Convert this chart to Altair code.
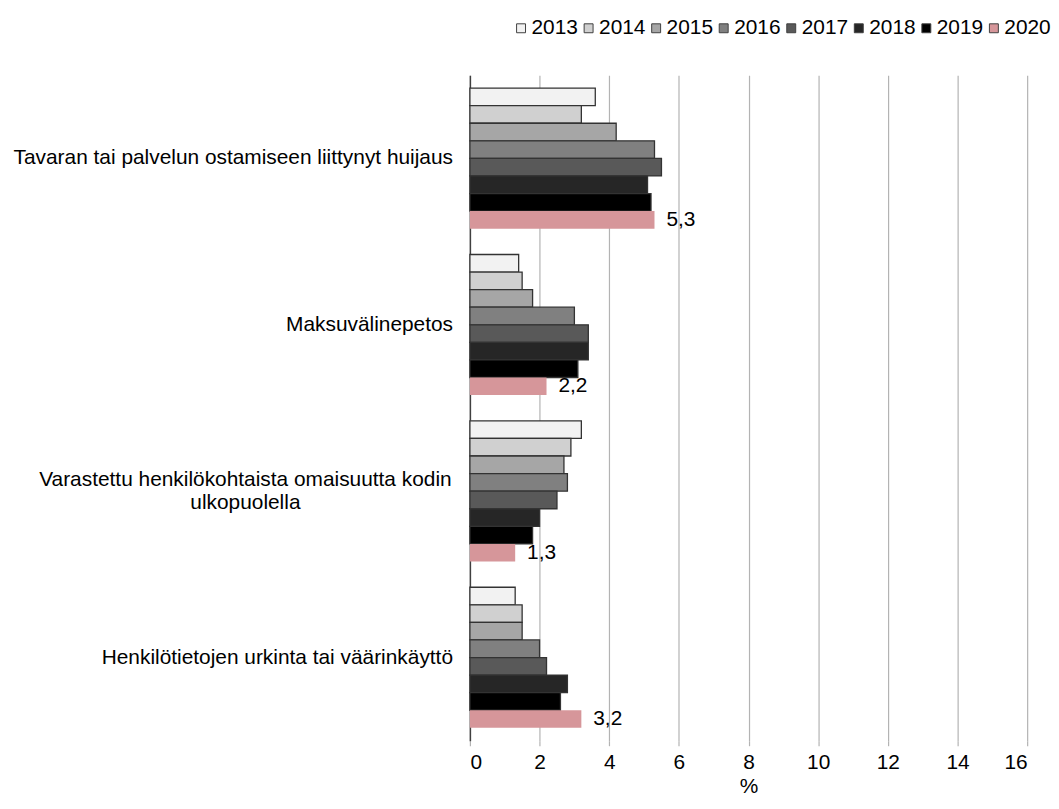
import altair as alt
import pandas as pd

categories = [
    "Tavaran tai palvelun ostamiseen liittynyt huijaus",
    "Maksuvälinepetos",
    "Varastettu henkilökohtaista omaisuutta kodin ulkopuolella",
    "Henkilötietojen urkinta tai väärinkäyttö",
]
years = ["2013", "2014", "2015", "2016", "2017", "2018", "2019", "2020"]
values = {
    "2013": [3.6, 1.4, 3.2, 1.3],
    "2014": [3.2, 1.5, 2.9, 1.5],
    "2015": [4.2, 1.8, 2.7, 1.5],
    "2016": [5.3, 3.0, 2.8, 2.0],
    "2017": [5.5, 3.4, 2.5, 2.2],
    "2018": [5.1, 3.4, 2.0, 2.8],
    "2019": [5.2, 3.1, 1.8, 2.6],
    "2020": [5.3, 2.2, 1.3, 3.2],
}
colors = ["#f2f2f2", "#d0d0d0", "#a6a6a6", "#808080", "#595959", "#262626", "#000000", "#d6969a"]

rows = []
for y in years:
    for c, v in zip(categories, values[y]):
        rows.append({"cat": c, "year": y, "value": v, "label": f"{v:.1f}".replace(".", ",")})
df = pd.DataFrame(rows)

label_rows = [
    {"cat": categories[0], "text": categories[0], "kind": "r"},
    {"cat": categories[1], "text": categories[1], "kind": "r"},
    {"cat": categories[2], "text": "Varastettu henkilökohtaista omaisuutta kodin\nulkopuolella", "kind": "c"},
    {"cat": categories[3], "text": categories[3], "kind": "r"},
]
ldf = pd.DataFrame(label_rows)

FONT = "Liberation Sans"
FS = 21

yscale = alt.Scale(domain=categories, paddingInner=0.155, paddingOuter=0.0775)

bars = alt.Chart(df).mark_bar(stroke="#333333").encode(
    x=alt.X("value:Q", scale=alt.Scale(domain=[0, 16]),
            axis=alt.Axis(values=list(range(0, 17, 2)), title="%", grid=True, gridColor="#b3b3b3",
                          gridWidth=1.2, domain=False, ticks=True, tickColor="#b3b3b3", tickSize=5,
                          tickWidth=1.2, labelFontSize=FS, labelPadding=6,
                          titleFontSize=FS, titleFontWeight="normal", titlePadding=3,
                          labelColor="#000", titleColor="#000", labelFont=FONT, titleFont=FONT)),
    y=alt.Y("cat:N", scale=yscale, axis=alt.Axis(title=None, labels=False, ticks=False,
                                                   domainColor="#404040", domainWidth=1.5)),
    yOffset=alt.YOffset("year:N", sort=years, scale=alt.Scale(paddingInner=0, paddingOuter=0)),
    fill=alt.Color("year:N", sort=years, scale=alt.Scale(domain=years, range=colors),
                   legend=alt.Legend(title=None, orient="none", direction="horizontal", columns=8,
                                     legendX=41, legendY=-58, symbolType="square", symbolSize=81,
                                     symbolStrokeColor="#404040", symbolStrokeWidth=1,
                                     labelFontSize=FS, labelFont=FONT, labelColor="#000",
                                     labelOffset=0, columnPadding=0)),
    strokeWidth=alt.condition(alt.datum.year == "2020", alt.value(0), alt.value(1.3)),
)

vals = alt.Chart(df[df["year"] == "2020"]).mark_text(
    align="left", baseline="middle", dx=12, fontSize=FS, font=FONT, color="#000"
).encode(
    x="value:Q",
    y=alt.Y("cat:N", scale=yscale),
    yOffset=alt.YOffset("year:N", sort=years, scale=alt.Scale(domain=years, paddingInner=0, paddingOuter=0)),
    text="label:N",
)

lab_r = alt.Chart(ldf[ldf["kind"] == "r"]).mark_text(
    align="right", baseline="middle", fontSize=FS, font=FONT, color="#000"
).encode(x=alt.value(-17), y=alt.Y("cat:N", scale=yscale), text="text:N")

lab_c = alt.Chart(ldf[ldf["kind"] == "c"]).mark_text(
    align="center", baseline="middle", fontSize=FS, font=FONT, color="#000", lineBreak="\n",
    lineHeight=23, dy=-11
).encode(x=alt.value(-226), y=alt.Y("cat:N", scale=yscale), text="text:N")

chart = alt.layer(bars, vals, lab_r, lab_c).properties(
    width=561, height=670, background="white",
    padding={"top": 7, "left": 5, "right": 0, "bottom": 0},
).configure_view(stroke=None)

chart.save("out.html", embed_options={"renderer": "svg", "actions": False})
